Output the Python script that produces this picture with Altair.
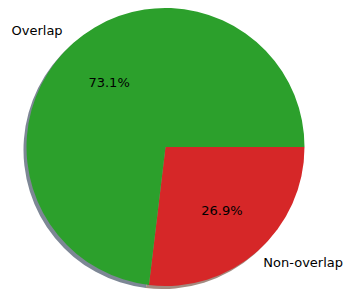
import math
import altair as alt
import pandas as pd

categories = ["Non-overlap", "Overlap"]
values = [26.9, 73.1]
colors = ["#d62728", "#2ca02c"]
shadow_colors = ["#a38b80", "#7d8795"]
order = [0, 1]
pct_labels = ["26.9%", "73.1%"]

df = pd.DataFrame({
    "cat": categories,
    "value": values,
    "ord": order,
    "col": colors,
    "shadow": shadow_colors,
    "pct": pct_labels,
})

W, H = 336, 281
cx, cy = 157.5, 139
R = 139

theta_scale = alt.Scale(domain=[0, 100], range=[math.pi / 2, math.pi / 2 + 2 * math.pi])

base = alt.Chart(df).encode(
    theta=alt.Theta("value:Q", stack=True, scale=theta_scale),
    order=alt.Order("ord:Q"),
)

shadow = base.mark_arc(radius=R).encode(
    color=alt.Color("shadow:N", scale=None),
    x=alt.value(cx - 3),
    y=alt.value(cy + 3),
)

pie = base.mark_arc(radius=R).encode(
    color=alt.Color("col:N", scale=None),
    x=alt.value(cx),
    y=alt.value(cy),
)

txt = dict(baseline="middle", fontSize=13, font="DejaVu Sans", color="black")

lab_right = base.transform_calculate(
    lab="datum.cat == 'Overlap' ? datum.cat : ''"
).mark_text(radius=155, align="right", **txt).encode(
    text="lab:N", x=alt.value(cx), y=alt.value(cy)
)

lab_left = base.transform_calculate(
    lab="datum.cat == 'Non-overlap' ? datum.cat : ''"
).mark_text(radius=155, align="left", dx=-5, **txt).encode(
    text="lab:N", x=alt.value(cx), y=alt.value(cy)
)

pct = base.mark_text(radius=85, align="center", **txt).encode(
    text="pct:N", x=alt.value(cx), y=alt.value(cy)
)

chart = alt.layer(shadow, pie, lab_right, lab_left, pct).properties(
    width=W, height=H, padding=0,
    autosize=alt.AutoSizeParams(type="none"),
).configure_view(strokeWidth=0)

chart.save("out.html", embed_options={"renderer": "svg", "actions": False})
